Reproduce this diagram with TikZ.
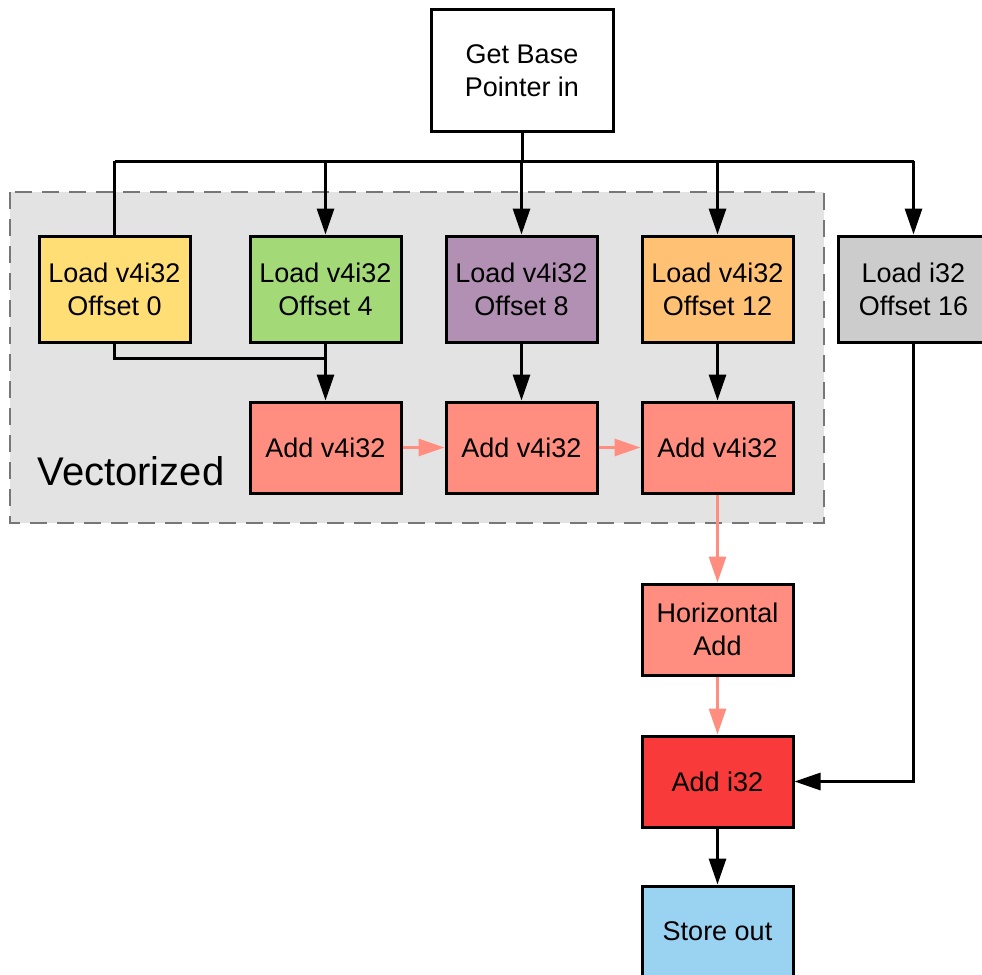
\documentclass[tikz,border=0pt]{standalone}
\usepackage{fontspec}
\setmainfont{Liberation Sans}
\usetikzlibrary{positioning,arrows.meta}

\definecolor{yellowclr}{HTML}{FFDE75}
\definecolor{greenclr}{HTML}{A3D977}
\definecolor{purpleclr}{HTML}{B290B4}
\definecolor{orangeclr}{HTML}{FFC275}
\definecolor{grayclr}{HTML}{CCCCCC}
\definecolor{salmonclr}{HTML}{FF8E80}
\definecolor{redclr}{HTML}{F93A3A}
\definecolor{blueclr}{HTML}{9AD2F2}
\definecolor{bgclr}{HTML}{E3E3E3}
\definecolor{dashclr}{HTML}{777777}

\tikzset{
	box/.style={draw, line width=3pt, align=center, inner sep=0pt,
		font=\fontsize{27pt}{33pt}\selectfont},
	load/.style={box, minimum width=151pt, minimum height=106pt},
	adder/.style={box, minimum width=151pt, minimum height=91pt},
	wire/.style={line width=3pt},
	arr/.style={wire, -{Triangle[length=26pt,width=17pt]}},
	sarr/.style={arr, salmonclr},
}

\begin{document}
\begin{tikzpicture}[x=1pt, y=-1pt]
	\useasboundingbox (0,0) rectangle (982,974);
	
	% vectorized region
	\draw[fill=bgclr, draw=dashclr, line width=2.5pt, dash pattern=on 17pt off 10pt]
		(10,192) rectangle (824,523);
	\node[anchor=west, font=\fontsize{40pt}{44pt}\selectfont] (vec) at (34,471) {Vectorized};
	
	\node[box, fill=white, minimum width=182pt, minimum height=121pt] (base) at (522,70.5) {Get Base\\Pointer in};
	
	\node[load, fill=yellowclr] (ld0) at (114.5,289) {Load v4i32\\Offset 0};
	\node[load, fill=greenclr, right=57pt of ld0] (ld4) {Load v4i32\\Offset 4};
	\node[load, fill=purpleclr, right=42pt of ld4] (ld8) {Load v4i32\\Offset 8};
	\node[load, fill=orangeclr, right=42pt of ld8] (ld12) {Load v4i32\\Offset 12};
	\node[load, fill=grayclr, right=42pt of ld12] (ld16) {Load i32\\Offset 16};
	
	\node[adder, fill=salmonclr, below=57pt of ld4] (ad4) {Add v4i32};
	\node[adder, fill=salmonclr, below=57pt of ld8] (ad8) {Add v4i32};
	\node[adder, fill=salmonclr, below=57pt of ld12] (ad12) {Add v4i32};
	\node[adder, fill=salmonclr, below=88pt of ad12] (hadd) {Horizontal\\Add};
	\node[adder, fill=redclr, below=58pt of hadd] (addi) {Add i32};
	\node[adder, fill=blueclr, below=56pt of addi] (store) {Store out};
	
	\coordinate (busL) at (114.5,161);
	\coordinate (busR) at (913.5,161);
	
	\draw[wire] (base) -- (base |- busL);
	\draw[wire] (busL) -- (busR);
	\draw[wire] (busL) -- (ld0);
	\draw[arr] (ld4 |- busL) -- (ld4);
	\draw[arr] (ld8 |- busL) -- (ld8);
	\draw[arr] (ld12 |- busL) -- (ld12);
	\draw[arr] (busR) -- (ld16);
	
	\draw[wire] (ld0.south) |- ([yshift=-15pt]ld4.south);
	\draw[arr] (ld4) -- (ad4);
	\draw[arr] (ld8) -- (ad8);
	\draw[arr] (ld12) -- (ad12);
	
	\draw[sarr] (ad4) -- (ad8);
	\draw[sarr] (ad8) -- (ad12);
	\draw[sarr] (ad12) -- (hadd);
	\draw[sarr] (hadd) -- (addi);
	
	\draw[arr] (ld16) |- (addi);
	\draw[arr] (addi) -- (store);
\end{tikzpicture}
\end{document}
